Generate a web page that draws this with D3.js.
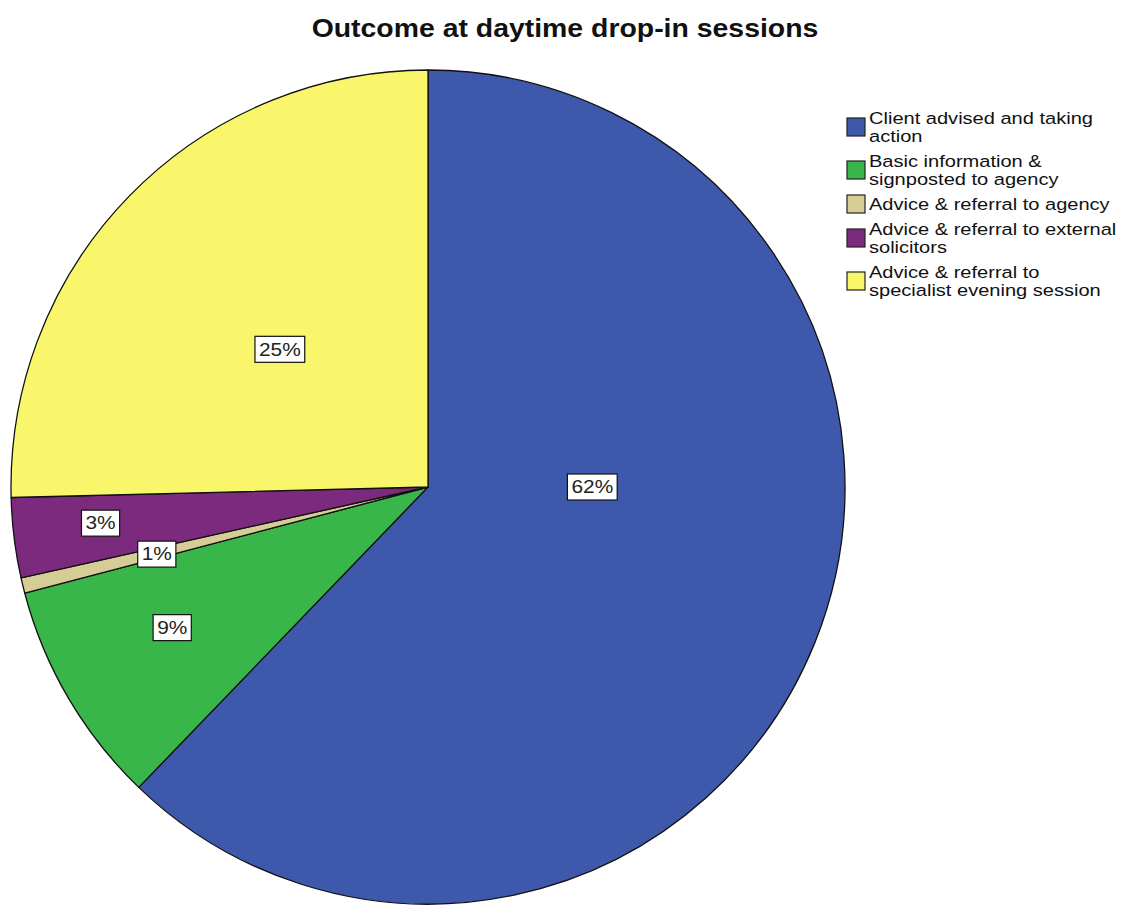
<!DOCTYPE html>
<html>
<head>
<meta charset="utf-8">
<script src="https://cdn.jsdelivr.net/npm/d3@7"></script>
<style>
  html, body { margin: 0; padding: 0; background: #fff; }
  svg { display: block; }
  text { font-family: "Liberation Sans", Arial, sans-serif; }
</style>
</head>
<body>
<svg id="chart" width="1123" height="905"></svg>
<script>
// ---- Data ----
const title = "Outcome at daytime drop-in sessions";
const categories = [
  "Client advised and taking action",
  "Basic information & signposted to agency",
  "Advice & referral to agency",
  "Advice & referral to external solicitors",
  "Advice & referral to specialist evening session"
];
const legendLines = [
  ["Client advised and taking", "action"],
  ["Basic information &", "signposted to agency"],
  ["Advice & referral to agency"],
  ["Advice & referral to external", "solicitors"],
  ["Advice & referral to", "specialist evening session"]
];
const values = [62.2, 8.7, 0.6, 3.1, 25.4];
const percentLabels = ["62%", "9%", "1%", "3%", "25%"];
const colors = ["#3e59ab", "#38b64a", "#d6cc96", "#7c2a7e", "#f9f66c"];

// ---- Layout (not data) ----
const W = 1123, H = 905;
const cx = 428, cy = 487, R = 417;
const stretch = 1.16; // horizontal text stretch seen in the reference
// label placement: [angle in degrees clockwise from top, radius fraction]
const labelPlacement = [[90, 0.394], [241.2, 0.70], [256.1, 0.67], [263.7, 0.79], [312.9, 0.485]];

const svg = d3.select("#chart");

svg.append("text")
  .attr("transform", `translate(565,37) scale(1.137,1)`)
  .attr("text-anchor", "middle")
  .attr("font-size", 25).attr("font-weight", "bold")
  .attr("fill", "#111")
  .text(title);

const pie = d3.pie().sort(null).value(d => d)(values);
const arc = d3.arc().innerRadius(0).outerRadius(R);

const g = svg.append("g").attr("transform", `translate(${cx},${cy})`);
g.selectAll("path.slice").data(pie).join("path")
  .attr("class", "slice")
  .attr("d", arc)
  .attr("fill", (d, i) => colors[i])
  .attr("stroke", "#111")
  .attr("stroke-width", 1.3)
  .attr("stroke-linejoin", "round");

// labels
const lab = g.selectAll("g.lab").data(pie).join("g").attr("class", "lab")
  .attr("transform", (d, i) => {
    const a = labelPlacement[i][0] * Math.PI / 180;
    const r = labelPlacement[i][1] * R;
    return `translate(${r * Math.sin(a)},${-r * Math.cos(a)})`;
  });
lab.each(function(d, i) {
  const sel = d3.select(this);
  const t = sel.append("text")
    .attr("text-anchor", "middle")
    .attr("dy", "0.35em")
    .attr("font-size", 18)
    .attr("fill", "#222")
    .attr("transform", `scale(${stretch},1)`)
    .text(percentLabels[i]);
  const bb = t.node().getBBox();
  const w = bb.width * stretch;
  sel.insert("rect", "text")
    .attr("x", -w / 2 - 4).attr("y", -13)
    .attr("width", w + 8).attr("height", 26)
    .attr("fill", "#fff").attr("stroke", "#111").attr("stroke-width", 1.2);
});

// legend
const legend = svg.append("g").attr("transform", "translate(847,0)");
const entryTops = [];
let y = 110;
legendLines.forEach((lines, i) => {
  entryTops.push(y);
  y += lines.length * 18 + 7;
});
const le = legend.selectAll("g.le").data(legendLines).join("g").attr("class", "le")
  .attr("transform", (d, i) => `translate(0,${entryTops[i]})`);
le.append("rect")
  .attr("x", 0)
  .attr("y", d => (d.length * 18) / 2 - 9 - 1)
  .attr("width", 18).attr("height", 18)
  .attr("fill", (d, i) => colors[i])
  .attr("stroke", "#222").attr("stroke-width", 1.2);
le.each(function(lines) {
  const sel = d3.select(this);
  lines.forEach((l, j) => {
    sel.append("text")
      .attr("transform", `translate(22,${j * 18 + 14}) scale(1.18,1)`)
      .attr("font-size", 17)
      .attr("fill", "#111")
      .text(l);
  });
});
</script>
</body>
</html>
